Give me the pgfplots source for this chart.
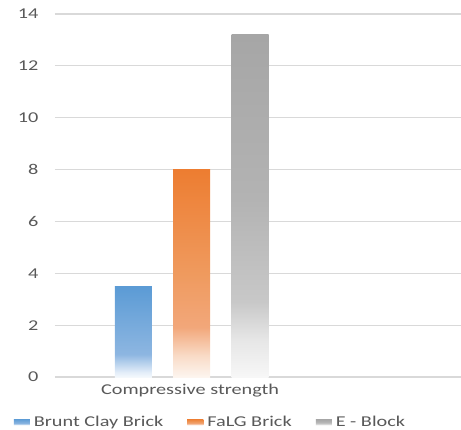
\documentclass[border=0pt]{standalone}
\usepackage{fontspec}
\setmainfont{Carlito}[FakeStretch=1.35]
\usepackage{pgfplots}
\pgfplotsset{compat=1.18}
\definecolor{txt}{HTML}{595959}
\definecolor{gridc}{HTML}{D9D9D9}
\definecolor{cblue}{HTML}{5B9BD5}
\definecolor{corange}{HTML}{ED7D31}
\definecolor{cgray}{HTML}{A5A5A5}
% blue shades
\definecolor{bA}{HTML}{F4F8FC}
\definecolor{bB}{HTML}{E4EEF9}
\definecolor{bC}{HTML}{8DB6E1}
\definecolor{bD}{HTML}{5B9BD5}
% orange shades
\definecolor{oA}{HTML}{FDF5EF}
\definecolor{oB}{HTML}{F9DCC8}
\definecolor{oC}{HTML}{F2A77A}
\definecolor{oD}{HTML}{EF9A5E}
\definecolor{oE}{HTML}{ED7D31}
% gray shades
\definecolor{gA}{HTML}{F7F7F7}
\definecolor{gB}{HTML}{E6E6E6}
\definecolor{gC}{HTML}{C8C8C8}
\definecolor{gD}{HTML}{B3B3B3}
\definecolor{gE}{HTML}{A6A6A6}
\pgfdeclareverticalshading{blueshade}{100bp}{%
  color(0bp)=(bA); color(25bp)=(bA); color(27.5bp)=(bB);
  color(37.5bp)=(bC); color(75bp)=(bD); color(100bp)=(bD)}
\pgfdeclareverticalshading{orangeshade}{100bp}{%
  color(0bp)=(oA); color(25bp)=(oA); color(30bp)=(oB);
  color(37bp)=(oC); color(50bp)=(oD); color(75bp)=(oE); color(100bp)=(oE)}
\pgfdeclareverticalshading{grayshade}{100bp}{%
  color(0bp)=(gA); color(25bp)=(gA); color(30.5bp)=(gB);
  color(36bp)=(gC); color(51bp)=(gD); color(75bp)=(gE); color(100bp)=(gE)}
\begin{document}
\begin{tikzpicture}
\begin{axis}[
  at={(55pt,52pt)}, anchor=south west,
  scale only axis, width=406pt, height=363pt,
  xmin=55, xmax=461, ymin=0, ymax=14,
  ytick={0,2,...,14},
  xtick={190}, xticklabels={Compressive strength},
  major tick length=0pt,
  axis line style={draw=none},
  ymajorgrids, grid style={gridc, line width=1.1pt},
  /pgf/number format/assume math mode=true,
  tick label style={font=\fontsize{15}{18}\selectfont, text=txt},
  yticklabel style={xshift=-13pt},
  xticklabel style={yshift=-4pt},
  legend style={at={(0.383,-0.124)}, anchor=center, draw=none,
    font=\fontsize{15}{18}\selectfont, text=txt,
    /tikz/every odd column/.append style={column sep=2pt},
    /tikz/every even column/.append style={column sep=22pt}},
  legend columns=3,
  legend cell align=left,
]
\addplot[ybar, bar width=37, bar shift=0pt, draw=none, shading=blueshade,
  legend image code/.code={\fill[cblue] (0pt,-3pt) rectangle (16pt,3pt);}]
  coordinates {(133.5,3.5)};
\addlegendentry{Brunt Clay Brick}
\addplot[ybar, bar width=37, bar shift=0pt, draw=none, shading=orangeshade,
  legend image code/.code={\fill[corange] (0pt,-3pt) rectangle (16pt,3pt);}]
  coordinates {(191.5,8)};
\addlegendentry{FaLG Brick}
\addplot[ybar, bar width=37, bar shift=0pt, draw=none, shading=grayshade,
  legend image code/.code={\fill[cgray] (0pt,-3pt) rectangle (16pt,3pt);}]
  coordinates {(250,13.2)};
\addlegendentry{E - Block}
\end{axis}
\pgfresetboundingbox
\path[use as bounding box] (0,0) rectangle (461pt,429pt);
\end{tikzpicture}
\end{document}
